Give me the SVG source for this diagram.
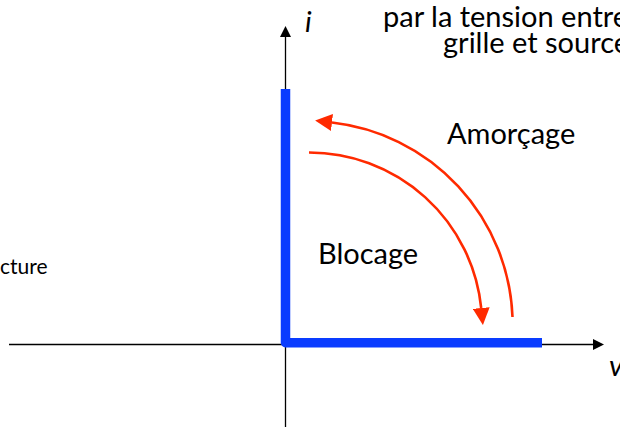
<svg xmlns="http://www.w3.org/2000/svg" width="620" height="427" viewBox="0 0 620 427">
<style>
.axis{stroke:#000;stroke-width:1.3;fill:none}
.curve{stroke:#ff2a00;stroke-width:2.6;fill:none}
.lbl{font-family:Lato,"Liberation Sans",sans-serif;font-size:29px;fill:#000}
.it{font-style:italic}
</style>
<defs>
<marker id="ah" markerUnits="userSpaceOnUse" markerWidth="11" markerHeight="11" refX="0" refY="5" orient="auto" viewBox="0 0 10 10">
<path d="M0,0 L10,5 L0,10 z" fill="#000"/>
</marker>
<marker id="rh" markerUnits="userSpaceOnUse" markerWidth="17" markerHeight="17" refX="0" refY="8.5" orient="auto" viewBox="0 0 17 17">
<path d="M0,0 L17,8.5 L0,17 z" fill="#ff2a00"/>
</marker>
</defs>
<g id="connectors">
<path id="v-axis" class="axis" d="M285.5,427 V37" marker-end="url(#ah)"/>
<path id="h-axis" class="axis" d="M9,344.5 H593" marker-end="url(#ah)"/>
<path id="characteristic" d="M285.5,89 V342.7 H542" fill="none" stroke="#0a3cff" stroke-width="9.5" stroke-linejoin="round"/>
<path id="amorcage-arc" class="curve" d="M512.5,317 A203.7,203.7 0 0 0 332,122.5" marker-end="url(#rh)"/>
<path id="blocage-arc" class="curve" d="M309,152.5 A173,173 0 0 1 481.2,308" marker-end="url(#rh)"/>
</g>
<g id="label-i"><text class="lbl it" x="305" y="32">i</text></g>
<g id="label-v"><text class="lbl it" x="609" y="376">v</text></g>
<g id="label-title"><text class="lbl" x="383" y="27">par la tension entre</text><text class="lbl" x="443" y="53">grille et source</text></g>
<g id="label-amorcage"><text class="lbl" x="447" y="144">Amorçage</text></g>
<g id="label-blocage"><text class="lbl" x="318" y="263.5">Blocage</text></g>
<g id="label-cture"><text class="lbl" x="0" y="274" style="font-size:21px">cture</text></g>
</svg>
